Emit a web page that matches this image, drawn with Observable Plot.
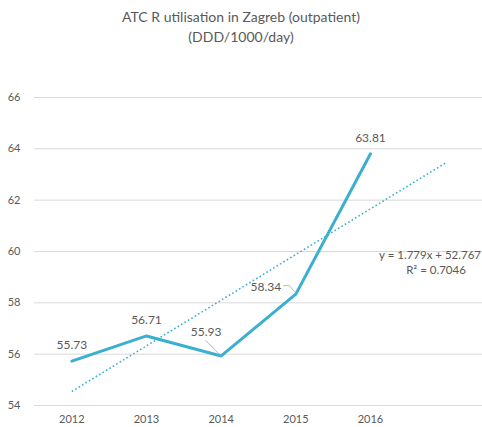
<!DOCTYPE html>
<html>
<head>
<meta charset="utf-8">
<script src="https://cdn.jsdelivr.net/npm/d3@7"></script>
<script src="https://cdn.jsdelivr.net/npm/@observablehq/plot@0.6"></script>
<style>
  html, body { margin: 0; padding: 0; background: #fff; }
  #wrap { width: 482px; height: 427px; overflow: hidden; font-family: Lato, "Open Sans", sans-serif; }
  #title { height: 40px; padding-top: 7px; text-align: center; color: #595959; font-size: 14px; line-height: 20px; }
  svg { display: block; }
</style>
</head>
<body>
<div id="wrap">
  <div id="title">ATC R utilisation in Zagreb (outpatient)<br>(DDD/1000/day)</div>
  <div id="chart"></div>
</div>
<script>
const years = ["2012", "2013", "2014", "2015", "2016"];
const values = [55.73, 56.71, 55.93, 58.34, 63.81];
const yTicks = [54, 56, 58, 60, 62, 64, 66];
const trendSlope = 1.779;
const trendIntercept = 52.767;
const trendXs = [1, 6];
const trendLabel = ["y = 1.779x + 52.767", "R\u00b2 = 0.7046"];

const data = years.map((y, i) => ({i: i + 1, year: y, v: values[i]}));
const trend = trendXs.map(x => ({x, v: trendSlope * x + trendIntercept}));

const color = "#3aafcf";
const textColor = "#595959";

// label placement (pixel offsets), not data
const normal = data.filter(d => d.year !== "2014" && d.year !== "2015");
const lab2014 = data.filter(d => d.year === "2014");
const lab2015 = data.filter(d => d.year === "2015");

function leaders(index, scales) {
  const g = d3.create("svg:g").attr("stroke", "#a6a6a6").attr("fill", "none").attr("stroke-width", 0.8);
  for (const d of lab2014) {
    const px = scales.x(d.i), py = scales.y(d.v);
    g.append("path").attr("d", `M${px},${py}L${px - 15},${py - 15}`);
  }
  for (const d of lab2015) {
    const px = scales.x(d.i), py = scales.y(d.v);
    g.append("path").attr("d", `M${px},${py - 1}L${px - 6},${py - 8}L${px - 12},${py - 8}`);
  }
  return g.node();
}

function trendText(index, scales, values, dims) {
  const g = d3.create("svg:g").attr("fill", textColor).attr("font-size", 11.5);
  const y0 = scales.y(59.83);
  g.append("text").attr("x", dims.width - 1).attr("y", y0).attr("dy", "0.35em").attr("text-anchor", "end").text(trendLabel[0]);
  g.append("text").attr("x", 436).attr("y", y0 + 15).attr("dy", "0.35em").attr("text-anchor", "middle").text(trendLabel[1]);
  return g.node();
}

const plot = Plot.plot({
  width: 482,
  height: 380,
  marginLeft: 34,
  marginRight: 0,
  marginTop: 50,
  marginBottom: 22,
  style: {fontFamily: "Lato, 'Open Sans', sans-serif", color: textColor, background: "#fff"},
  x: {domain: [0.5, 6.5], label: null},
  y: {domain: [54, 66], label: null},
  marks: [
    Plot.ruleY(yTicks, {stroke: "#d9d9d9", strokeWidth: 1}),
    Plot.axisX({ticks: [1, 2, 3, 4, 5], tickFormat: d => years[d - 1], tickSize: 0, tickPadding: 10, fontSize: 11, label: null, color: textColor}),
    Plot.axisY({ticks: yTicks, tickFormat: d => String(d), tickSize: 0, tickPadding: 14, fontSize: 11, label: null, color: textColor}),
    Plot.line(trend, {x: "x", y: "v", stroke: color, strokeWidth: 1.6, strokeDasharray: "1.6,2.4", strokeLinecap: "butt"}),
    Plot.line(data, {x: "i", y: "v", stroke: color, strokeWidth: 3, strokeLinejoin: "miter"}),
    leaders,
    Plot.text(normal, {x: "i", y: "v", text: d => d.v.toFixed(2), dy: -16, fill: textColor, fontSize: 12}),
    Plot.text(lab2014, {x: "i", y: "v", text: d => d.v.toFixed(2), dx: -15, dy: -24, fill: textColor, fontSize: 12}),
    Plot.text(lab2015, {x: "i", y: "v", text: d => d.v.toFixed(2), dx: -30, dy: -7, fill: textColor, fontSize: 12}),
    trendText
  ]
});
document.getElementById("chart").appendChild(plot);
</script>
</body>
</html>
